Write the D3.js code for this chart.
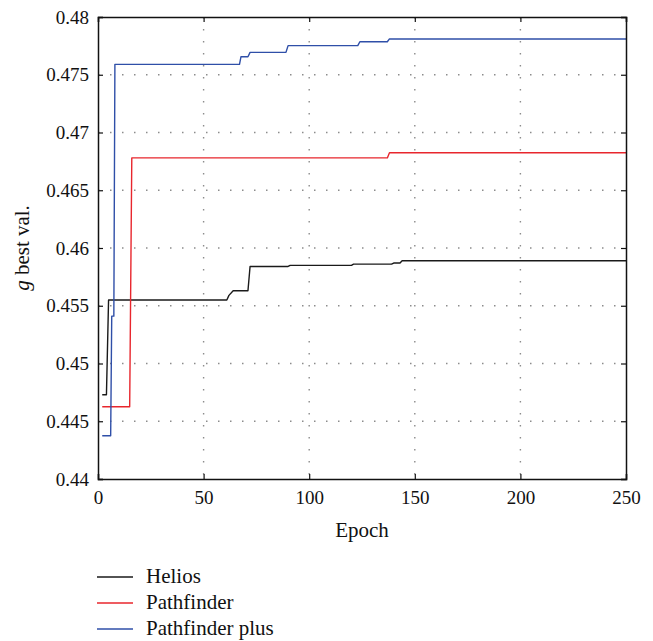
<!DOCTYPE html>
<html>
<head>
<meta charset="utf-8">
<script src="https://cdn.jsdelivr.net/npm/d3@7"></script>
<style>
  html, body { margin: 0; padding: 0; background: #fff; }
  svg { display: block; }
  svg text { font-family: "Liberation Serif", "DejaVu Serif", serif !important; fill: #111; }
</style>
</head>
<body>
<svg id="chart" width="653" height="641"></svg>
<script>
// ---- Data ----
const xTicks = [0, 50, 100, 150, 200, 250];
const yTicks = [0.44, 0.445, 0.45, 0.455, 0.46, 0.465, 0.47, 0.475, 0.48];
const seriesNames = ["Helios", "Pathfinder", "Pathfinder plus"];
const heliosEpochs = [2, 4, 5, 61, 62, 64, 71, 72, 90, 91, 120, 121, 139, 140, 143, 144, 250];
const heliosValues = [0.4473, 0.4473, 0.4555, 0.4555, 0.4559, 0.4563, 0.4563, 0.4584, 0.4584, 0.4585, 0.4585, 0.4586, 0.4586, 0.4587, 0.4587, 0.4589, 0.4589];
const pathfinderEpochs = [2, 15, 16, 137, 138, 250];
const pathfinderValues = [0.44626, 0.44626, 0.4678, 0.4678, 0.46825, 0.46825];
const plusEpochs = [2, 6, 6.5, 7.5, 8, 67, 67.7, 71, 72, 89, 90, 123, 124, 137, 138, 250];
const plusValues = [0.44375, 0.44375, 0.4541, 0.4541, 0.4759, 0.4759, 0.47656, 0.47656, 0.47694, 0.47694, 0.47752, 0.47752, 0.47786, 0.47786, 0.4781, 0.4781];
const seriesColors = ["#1a1a1a", "#e8262d", "#2f4fa8"];

// ---- Layout ----
const svg = d3.select("#chart");
const x = d3.scaleLinear().domain([0, 250]).range([98, 626]);
const y = d3.scaleLinear().domain([0.44, 0.48]).range([479, 17]);
const fs = 19;
const fsTitle = 21;

// gridlines
const grid = svg.append("g");
grid.selectAll("line.gx").data(xTicks.slice(1, -1)).join("line")
  .attr("x1", d => x(d)).attr("x2", d => x(d))
  .attr("y1", y(0.48)).attr("y2", y(0.44))
  .attr("stroke", "#8c8c8c").attr("stroke-width", 1.4)
  .attr("stroke-dasharray", "1.5,10.5");
grid.selectAll("line.gy").data(yTicks.slice(1, -1)).join("line")
  .attr("x1", x(0)).attr("x2", x(250))
  .attr("y1", d => y(d)).attr("y2", d => y(d))
  .attr("stroke", "#8c8c8c").attr("stroke-width", 1.4)
  .attr("stroke-dasharray", "1.5,10.5");

// series
const line = d3.line().x(d => x(d[0])).y(d => y(d[1]));
const series = [
  d3.zip(heliosEpochs, heliosValues),
  d3.zip(pathfinderEpochs, pathfinderValues),
  d3.zip(plusEpochs, plusValues)
];
series.forEach((pts, i) => {
  svg.append("path").datum(pts)
    .attr("d", line)
    .attr("fill", "none")
    .attr("stroke", seriesColors[i])
    .attr("stroke-width", 1.4)
    .attr("stroke-linejoin", "round");
});

// axes with inward ticks
const fmt = d => String(+d.toFixed(3));
const axL = svg.append("g").attr("transform", `translate(${x(0)},0)`)
  .call(d3.axisLeft(y).tickValues(yTicks).tickSize(-5).tickPadding(9).tickFormat(fmt));
const axB = svg.append("g").attr("transform", `translate(0,${y(0.44)})`)
  .call(d3.axisBottom(x).tickValues(xTicks).tickSize(-5).tickPadding(12).tickFormat(d3.format("d")));
const axR = svg.append("g").attr("transform", `translate(${x(250)},0)`)
  .call(d3.axisRight(y).tickValues(yTicks).tickSize(-5).tickFormat(""));
const axT = svg.append("g").attr("transform", `translate(0,${y(0.48)})`)
  .call(d3.axisTop(x).tickValues(xTicks).tickSize(-5).tickFormat(""));
[axL, axB, axR, axT].forEach(a => {
  a.attr("font-family", null).attr("font-size", null);
  a.select(".domain").attr("stroke", "#111").attr("stroke-width", 1.5);
  a.selectAll(".tick line").attr("stroke", "#111").attr("stroke-width", 1.2);
  a.selectAll("text").attr("font-size", fs).attr("fill", "#111");
});

// axis titles
svg.append("text")
  .attr("x", (x(0) + x(250)) / 2).attr("y", 537)
  .attr("text-anchor", "middle").attr("font-size", fsTitle)
  .text("Epoch");
const yt = svg.append("text")
  .attr("transform", `translate(29,${(y(0.44) + y(0.48)) / 2}) rotate(-90)`)
  .attr("text-anchor", "middle").attr("font-size", fsTitle);
yt.append("tspan").attr("font-style", "italic").text("g");
yt.append("tspan").text(" best val.");

// legend
const leg = svg.append("g");
seriesNames.forEach((name, i) => {
  const ly = 577 + i * 26;
  leg.append("line").attr("x1", 97).attr("x2", 133).attr("y1", ly).attr("y2", ly)
    .attr("stroke", seriesColors[i]).attr("stroke-width", 1.4);
  leg.append("text").attr("x", 146).attr("y", ly + 6)
    .attr("font-size", fsTitle).text(name);
});
</script>
</body>
</html>
